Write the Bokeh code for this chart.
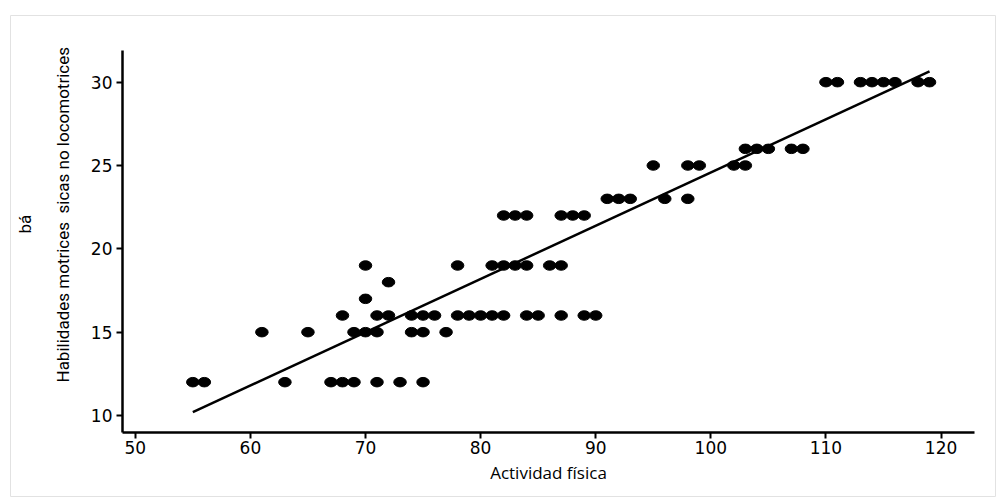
import math
from bokeh.plotting import figure
from bokeh.models import ColumnDataSource, Range1d, FixedTicker, Label
from bokeh.embed import file_html
from bokeh.resources import INLINE

# Data
y30_x = [110, 111, 113, 114, 115, 116, 118, 119]
y26_x = [103, 104, 105, 107, 108]
y25_x = [95, 98, 99, 102, 103]
y23_x = [91, 92, 93, 96, 98]
y22_x = [82, 83, 84, 87, 88, 89]
y19_x = [70, 78, 81, 82, 83, 84, 86, 87]
y18_x = [72]
y17_x = [70]
y16_x = [68, 71, 72, 74, 75, 76, 78, 79, 80, 81, 82, 84, 85, 87, 89, 90]
y15_x = [61, 65, 69, 70, 71, 74, 75, 77]
y12_x = [55, 56, 63, 67, 68, 69, 71, 73, 75]

fit_x = [55, 119]
fit_y = [10.2, 30.65]

x_ticks = [50, 60, 70, 80, 90, 100, 110, 120]
y_ticks = [10, 15, 20, 25, 30]

groups = [(30, y30_x), (26, y26_x), (25, y25_x), (23, y23_x), (22, y22_x),
          (19, y19_x), (18, y18_x), (17, y17_x), (16, y16_x), (15, y15_x), (12, y12_x)]
xs, ys = [], []
for yv, xl in groups:
    for xv in xl:
        xs.append(xv)
        ys.append(yv)
src = ColumnDataSource(dict(x=xs, y=ys))

W, H = 998, 497
p = figure(width=W, height=H, output_backend="svg", toolbar_location=None,
           x_range=Range1d(39.16, 124.73), y_range=Range1d(5.08, 34.0),
           min_border_left=10, min_border_right=3, min_border_top=15, min_border_bottom=0,
           background_fill_color="white", border_fill_color="white")
p.outline_line_color = "#e2e2e2"
p.outline_line_width = 1
p.grid.visible = False

p.ellipse(x="x", y="y", width=12.5, height=9.5, width_units="screen", height_units="screen",
          source=src, fill_color="black", line_color="black")
p.line(fit_x, fit_y, line_color="black", line_width=2.5)

p.xaxis.fixed_location = 9.0
p.xaxis.bounds = (48.89, 122.91)
p.yaxis.fixed_location = 48.89
p.yaxis.bounds = (9.0, 31.9)

for ax in (p.xaxis[0], p.yaxis[0]):
    ax.axis_line_color = "black"
    ax.axis_line_width = 2.5
    ax.major_tick_line_color = "black"
    ax.major_tick_line_width = 2
    ax.major_tick_out = 6
    ax.major_tick_in = 0
    ax.minor_tick_line_color = None
    ax.major_label_text_color = "black"
    ax.major_label_text_font = "DejaVu Sans"
    ax.major_label_text_font_size = "17px"

p.xaxis.ticker = FixedTicker(ticks=x_ticks)
p.yaxis.ticker = FixedTicker(ticks=y_ticks)
p.xaxis.major_label_standoff = 3
p.yaxis.major_label_standoff = 4

p.xaxis.axis_label = "Actividad física"
p.xaxis.axis_label_text_font = "Open Sans"
p.xaxis.axis_label_text_font_style = "normal"
p.xaxis.axis_label_text_font_size = "17px"
p.xaxis.axis_label_text_color = "black"
p.xaxis.axis_label_standoff = 3

lab_font = "Liberation Sans Narrow, Roboto"
for txt, xx, yy in [("Habilidades motrices", 52, 115),
                    ("sicas no locomotrices", 52, 284),
                    ("bá", 14, 264)]:
    p.add_layout(Label(x=xx, y=yy, x_units="screen", y_units="screen", text=txt,
                       angle=math.pi / 2, text_align="left", text_baseline="middle",
                       text_font=lab_font, text_font_size="17px", text_color="black"))

open("out.html", "w").write(file_html(p, INLINE))
